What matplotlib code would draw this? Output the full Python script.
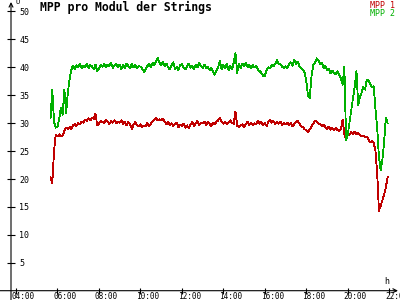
import matplotlib
matplotlib.use("Agg")
import matplotlib.pyplot as plt
import matplotlib.transforms as mtransforms
import numpy as np

plt.rcParams['font.family'] = 'DejaVu Sans Mono'

# sample times in minutes after midnight, 5 min apart, 05:40 .. 21:55
minutes = np.arange(340, 1320, 5)

# MPP 1 (red), volts
mpp1 = [
    20.3, 19.2, 25.0, 27.9,
    27.6, 28.0, 27.6, 27.8, 28.6, 29.2, 29.0, 29.3, 29.0, 29.6, 29.8, 29.5,   # 06
    30.0, 29.8, 30.3, 30.1, 30.6, 30.4, 30.9, 30.5, 31.0, 30.8, 31.7, 29.6,   # 07
    29.9, 30.4, 30.2, 30.0, 30.6, 30.3, 29.8, 30.4, 30.1, 30.5, 30.0, 30.3,   # 08
    30.1, 30.5, 29.9, 30.3, 29.6, 30.2, 29.8, 29.0, 29.7, 30.2, 29.6, 29.4,   # 09
    29.8, 29.3, 29.6, 29.4, 30.0, 29.5, 29.8, 30.4, 30.6, 30.9, 30.5, 30.7,   # 10
    30.5, 30.8, 30.3, 29.8, 30.2, 29.6, 30.0, 29.5, 29.8, 30.1, 29.3, 29.7,   # 11
    29.5, 29.9, 29.2, 29.6, 29.1, 29.8, 30.2, 29.5, 30.0, 30.4, 29.7, 30.1,   # 12
    30.0, 30.3, 29.6, 30.2, 29.9, 29.4, 30.1, 29.8, 30.3, 30.5, 31.0, 30.2,   # 13
    29.9, 30.3, 29.8, 30.1, 30.5, 30.0, 29.9, 32.1, 29.5, 29.3, 29.6, 29.8,   # 14
    29.3, 29.8, 30.3, 29.7, 30.1, 29.6, 30.0, 29.8, 30.4, 29.9, 30.2, 29.6,   # 15
    30.0, 29.5, 30.2, 30.5, 30.1, 30.4, 29.8, 30.2, 29.9, 30.3, 29.6, 30.0,   # 16
    29.8, 30.1, 29.7, 30.0, 29.4, 29.8, 30.2, 30.4, 29.9, 29.5, 29.3, 28.9,   # 17
    28.8, 28.4, 28.9, 29.4, 29.9, 30.4, 30.3, 30.0, 29.8, 29.5, 29.7, 29.3,   # 18
    29.0, 29.4, 28.8, 29.2, 28.7, 29.1, 28.8, 28.5, 29.0, 30.6, 28.0, 27.2,   # 19
    28.2, 27.9, 28.4, 28.1, 28.5, 28.0, 28.3, 27.9, 27.6, 27.8, 27.5, 27.6,   # 20
    27.0, 26.6, 26.8, 26.5, 25.0, 21.0, 14.3, 15.2, 16.2, 17.2, 18.5, 20.3,   # 21
]

# MPP 2 (green), volts
mpp2 = [
    31.0, 36.0, 30.2, 29.2,
    29.3, 30.8, 32.8, 31.5, 36.0, 31.8, 35.5, 37.8, 39.6, 40.3, 39.7, 40.4,   # 06
    40.0, 40.6, 39.8, 40.3, 40.1, 40.6, 39.9, 40.4, 40.2, 39.6, 40.5, 39.3,   # 07
    39.8, 40.4, 40.1, 40.6, 40.0, 40.5, 40.2, 40.8, 39.9, 40.3, 40.6, 40.1,   # 08
    40.5, 39.7, 40.4, 39.9, 40.7, 40.2, 39.8, 40.6, 40.0, 40.4, 39.8, 40.3,   # 09
    40.1, 39.8, 39.2, 39.6, 40.2, 40.6, 40.0, 40.8, 40.4, 41.0, 41.7, 40.8,   # 10
    40.4, 41.0, 40.2, 40.7, 40.0, 39.6, 40.3, 40.9, 39.7, 40.1, 39.5, 40.4,   # 11
    40.6, 40.0, 39.6, 40.2, 40.7, 39.9, 40.3, 39.6, 40.5, 40.0, 40.8, 40.2,   # 12
    39.9, 40.5, 39.8, 40.1, 39.5, 39.9, 39.3, 38.7, 39.4, 40.0, 41.2, 39.6,   # 13
    40.4, 39.8, 40.6, 39.5, 40.3, 39.6, 40.9, 42.5, 39.0, 40.6, 39.8, 40.7,   # 14
    40.3, 40.8, 40.0, 40.5, 39.8, 40.4, 40.0, 40.2, 39.6, 39.3, 39.0, 38.5,   # 15
    38.5, 39.5, 40.0, 39.8, 40.4, 40.2, 40.6, 41.3, 40.7, 40.5, 40.1, 39.9,   # 16
    40.2, 39.9, 40.5, 40.9, 40.3, 41.3, 40.6, 41.0, 40.2, 39.8, 39.6, 39.0,   # 17
    37.5, 34.8, 34.5, 38.5, 40.4, 40.8, 41.6, 41.3, 40.5, 40.8, 39.9, 40.3,   # 18
    39.5, 39.8, 38.9, 39.4, 39.0, 38.8, 39.3, 38.7, 38.0, 36.9, 40.1, 27.0,   # 19
    28.0, 30.2, 32.5, 34.5, 36.5, 39.3, 33.3, 34.6, 35.5, 36.5, 36.0, 37.8,   # 20
    37.6, 37.0, 36.4, 36.6, 32.5, 29.2, 24.0, 21.6, 23.5, 26.6, 31.0, 30.0,   # 21
]

series_names = ['MPP 1', 'MPP 2']
series_colors = ['#c00000', '#00b000']

yticks = [5, 10, 15, 20, 25, 30, 35, 40, 45, 50]
xticks = [4, 6, 8, 10, 12, 14, 16, 18, 20, 22]
xticklabels = ['%02d:00' % h for h in xticks]

hours = minutes / 60.0

fig = plt.figure(figsize=(4, 3), dpi=100)
ax = fig.add_axes([11 / 400, 9.3 / 300, 387 / 400, 288.7 / 300])

ax.plot(hours, mpp1, color=series_colors[0], lw=0.6, antialiased=False)
ax.plot(hours, mpp2, color=series_colors[1], lw=0.6, antialiased=False)

ax.set_xlim(3.759, 22.42)
ax.set_ylim(0, 51.7)

for s in ax.spines.values():
    s.set_visible(False)

# axis lines with open arrow heads, crossing each other
ax.annotate('', xy=(0, 1.0), xytext=(0, -0.04), xycoords='axes fraction',
            arrowprops=dict(arrowstyle='->', lw=0.8, color='black',
                            shrinkA=0, shrinkB=0, mutation_scale=7))
ax.annotate('', xy=(1.0, 0), xytext=(-0.03, 0), xycoords='axes fraction',
            arrowprops=dict(arrowstyle='->', lw=0.8, color='black',
                            shrinkA=0, shrinkB=0, mutation_scale=7))

ax.set_yticks(yticks)
ax.set_yticklabels([str(v) for v in yticks])
ax.set_xticks(xticks)
ax.set_xticklabels(xticklabels)
ax.tick_params(axis='y', direction='inout', length=6, width=0.8, pad=-9,
               labelsize=6)
ax.tick_params(axis='x', direction='inout', length=5, width=0.8, pad=-1.8,
               labelsize=5.6)
for lab in ax.get_yticklabels():
    lab.set_ha('left')
shift = mtransforms.ScaledTranslation(-4 / 100, 0, fig.dpi_scale_trans)
for lab in ax.get_xticklabels():
    lab.set_ha('left')
    lab.set_transform(lab.get_transform() + shift)

fig.text(40 / 400, 1 - 11.5 / 300, 'MPP pro Modul der Strings', fontsize=8.3,
         fontweight='bold', ha='left', va='baseline')
fig.text(395 / 400, 1 - 7.5 / 300, series_names[0], color=series_colors[0],
         fontsize=6, ha='right', va='baseline')
fig.text(395 / 400, 1 - 15.5 / 300, series_names[1], color=series_colors[1],
         fontsize=6, ha='right', va='baseline')
fig.text(387 / 400, 1 - 284.5 / 300, 'h', fontsize=6, ha='center',
         va='baseline')
fig.text(17.5 / 400, 1 - 4.5 / 300, 'U', fontsize=5, ha='center',
         va='baseline')

fig.savefig('out.png', dpi=100, facecolor='white')
